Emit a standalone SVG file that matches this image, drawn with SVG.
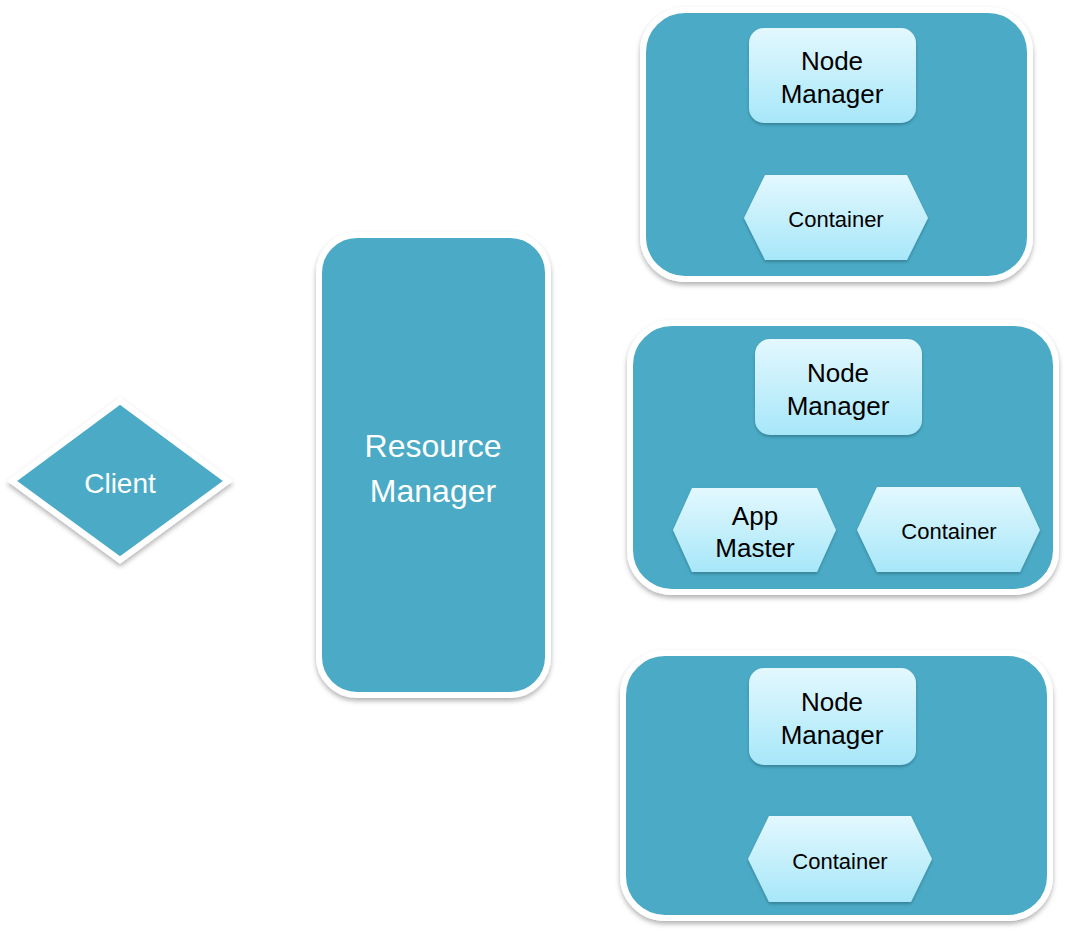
<svg xmlns="http://www.w3.org/2000/svg" width="1067" height="934" viewBox="0 0 1067 934">
  <style>
    .outer { fill: #4BABC6; stroke: #FFFFFF; stroke-width: 6; filter: url(#shadowOuter); }
    .inner { fill: url(#lightGrad); filter: url(#shadowInner); }
    .lbl { font-family: "Liberation Sans", Arial, sans-serif; text-anchor: middle; fill: #000000; }
    .nm { font-size: 26px; }
    .ct { font-size: 22px; }
    .wt { font-family: "Liberation Sans", Arial, sans-serif; text-anchor: middle; fill: #FFFFFF; }
  </style>
  <defs>
    <linearGradient id="lightGrad" x1="0" y1="0" x2="0" y2="1">
      <stop offset="0" stop-color="#E3F8FE"/>
      <stop offset="1" stop-color="#A7E7F9"/>
    </linearGradient>
    <filter id="shadowOuter" x="-10%" y="-10%" width="120%" height="125%">
      <feDropShadow dx="0" dy="3" stdDeviation="2.5" flood-color="#000000" flood-opacity="0.3"/>
    </filter>
    <filter id="shadowInner" x="-10%" y="-10%" width="120%" height="130%">
      <feDropShadow dx="0" dy="2" stdDeviation="1.5" flood-color="#1F5A6A" flood-opacity="0.5"/>
    </filter>
  </defs>
  <rect width="1067" height="934" fill="#FFFFFF"/>

  <g id="connectors"></g>

  <g id="client">
    <polygon class="outer" points="120,401 228,481 120,560 12,481"/>
    <text class="wt" x="120" y="493" font-size="28">Client</text>
  </g>

  <g id="resource-manager">
    <rect class="outer" x="319" y="235" width="229" height="460" rx="38" ry="38"/>
    <text class="wt" x="433" y="457" font-size="32">Resource</text>
    <text class="wt" x="433" y="502" font-size="32">Manager</text>
  </g>

  <g id="node1">
    <rect class="outer" x="643" y="10" width="387" height="269" rx="42" ry="42"/>
    <g id="node1-nm">
      <rect class="inner" x="749" y="28" width="167" height="95" rx="15" ry="15"/>
      <text class="lbl nm" x="832" y="70">Node</text>
      <text class="lbl nm" x="832" y="103">Manager</text>
    </g>
    <g id="node1-container">
      <polygon class="inner" points="744,218 765,175 907,175 928,218 907,260 765,260"/>
      <text class="lbl ct" x="836" y="227">Container</text>
    </g>
  </g>

  <g id="node2">
    <rect class="outer" x="630" y="323" width="426" height="269" rx="42" ry="42"/>
    <g id="node2-nm">
      <rect class="inner" x="755" y="339" width="167" height="96" rx="15" ry="15"/>
      <text class="lbl nm" x="838" y="382">Node</text>
      <text class="lbl nm" x="838" y="415">Manager</text>
    </g>
    <g id="node2-appmaster">
      <polygon class="inner" points="673,530 692,488 817,488 836,530 817,572 692,572"/>
      <text class="lbl nm" x="755" y="525">App</text>
      <text class="lbl nm" x="755" y="557">Master</text>
    </g>
    <g id="node2-container">
      <polygon class="inner" points="857,530 877,487 1020,487 1040,530 1020,572 877,572"/>
      <text class="lbl ct" x="949" y="539">Container</text>
    </g>
  </g>

  <g id="node3">
    <rect class="outer" x="623" y="653" width="427" height="265" rx="42" ry="42"/>
    <g id="node3-nm">
      <rect class="inner" x="749" y="668" width="167" height="97" rx="15" ry="15"/>
      <text class="lbl nm" x="832" y="711">Node</text>
      <text class="lbl nm" x="832" y="744">Manager</text>
    </g>
    <g id="node3-container">
      <polygon class="inner" points="748,859 769,816 911,816 932,859 911,902 769,902"/>
      <text class="lbl ct" x="840" y="869">Container</text>
    </g>
  </g>
</svg>
